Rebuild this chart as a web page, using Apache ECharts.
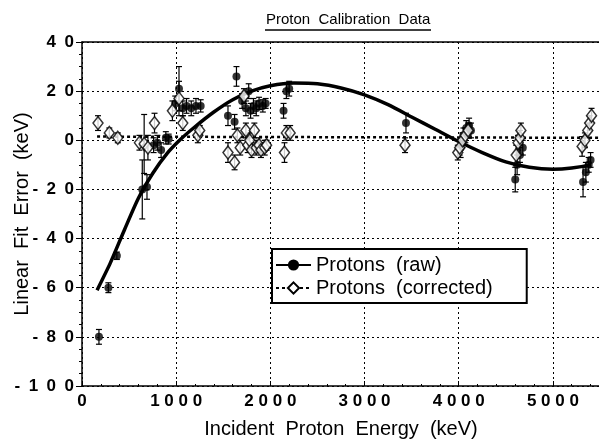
<!DOCTYPE html>
<html>
<head>
<meta charset="utf-8">
<script src="https://cdn.jsdelivr.net/npm/echarts@6/dist/echarts.min.js"></script>
<style>
  html, body { margin: 0; padding: 0; background: #fff; }
  #chart { width: 599px; height: 440px; }
</style>
</head>
<body>
<div id="chart"></div>
<script>
// Raw proton calibration residuals: energy (keV), linear-fit error (keV), 1-sigma error (keV)
const rawEnergy = [180, 280, 370, 640, 690, 760, 800, 840, 890, 920, 990, 1030, 1070, 1110, 1160, 1210, 1260,
  1550, 1620, 1640, 1700, 1740, 1770, 1790, 1820, 1850, 1880, 1920, 1950, 2140, 2170, 2200,
  3440, 4020, 4050, 4080, 4110, 4130, 4600, 4620, 4650, 4680, 5320, 5350, 5380, 5400];
const rawError = [-80, -60, -47, -20, -19, -2, -1, -4, 1, 0.5, 15, 21, 13, 14, 13, 14, 14,
  10, 7.5, 26, 16, 13, 20, 12, 14, 13, 15, 14, 15, 12, 20, 21,
  7, -3, 2, 5, 6, 4, -16, -10, -6, -3, -17, -13, -10, -8];
const rawSigma = [3, 2, 1.5, 12, 5, 3, 3, 3, 2.5, 2, 3, 9, 3, 3, 3, 3, 2.5,
  4, 3, 4, 3, 3, 3, 3, 3, 3, 2.5, 2.5, 2, 3, 3, 3,
  4, 4, 3, 3, 3, 3, 5, 4, 3, 3, 6, 4, 3, 3];

// Residuals after the non-linearity correction
const corrEnergy = [170, 290, 380, 610, 660, 700, 770, 960, 1030, 1070, 1230, 1250,
  1550, 1620, 1650, 1680, 1720, 1740, 1760, 1780, 1800, 1830, 1850, 1880, 1900, 1940, 1960,
  2150, 2170, 2210, 3430, 3990, 4010, 4040, 4070, 4100,
  4610, 4630, 4650, 4660, 5310, 5340, 5370, 5390, 5410];
const corrError = [7, 3, 1, -1, -1.5, -3, 7, 12, 17, 7, 2, 4,
  -5, -9, 2, -3, 18, 4, -2, 0, -4, 4, -3, -2, -4, -3, -2,
  -5, 3, 3, -2, -5, -3, 0, 2, 4,
  -6, -1, 1, 4, -2.5, 0, 4, 7, 10];
const corrSigma = [3, 2, 2, 3, 12, 5, 4, 4, 7, 3, 3, 2,
  4, 3, 3, 3, 3, 3, 3, 3, 3, 3, 3, 3, 3, 3, 2,
  4, 3, 3, 3, 3, 3, 3, 3, 3,
  4, 3, 3, 3, 4, 3, 3, 3, 3];

// Polynomial fit through the raw residuals, sampled along energy
const fitEnergy = [160, 300, 450, 600, 750, 900, 1050, 1200, 1400, 1600, 1800, 2000, 2250, 2500,
  2750, 3000, 3250, 3500, 3750, 4000, 4250, 4500, 4750, 5000, 5200, 5400];
const fitValue = [-61, -50, -36.5, -23.5, -13.5, -5.5, 0.5, 5.5, 11.5, 16.5, 20, 22.2, 23.3, 23,
  21.3, 18.5, 14.5, 9.5, 4.5, -0.5, -5, -8.8, -11, -11.8, -11.3, -10];

// Flat level of the corrected residuals
const corrFitEnergy = [160, 5500];
const corrFitValue = [1.5, 1];

const FONT = '"Liberation Sans", Arial, Helvetica, sans-serif';
const spacedX = v => String(v).split('').join(' ');
const spacedY = v => String(v).split('').join('\u2002');

const zip3 = (a, b, c) => a.map((x, i) => [x, b[i], c[i]]);
const zip2 = (a, b) => a.map((x, i) => [x, b[i]]);

function errorBar(params, api) {
  const x = api.value(0), y = api.value(1), s = api.value(2);
  const top = api.coord([x, y + s]);
  const bot = api.coord([x, y - s]);
  const cw = 3;
  const st = { stroke: '#000', lineWidth: 1.2 };
  return {
    type: 'group',
    children: [
      { type: 'line', shape: { x1: top[0], y1: top[1], x2: bot[0], y2: bot[1] }, style: st },
      { type: 'line', shape: { x1: top[0] - cw, y1: top[1], x2: top[0] + cw, y2: top[1] }, style: st },
      { type: 'line', shape: { x1: bot[0] - cw, y1: bot[1], x2: bot[0] + cw, y2: bot[1] }, style: st }
    ]
  };
}

const RAW_NAME = 'Protons  (raw)';
const CORR_NAME = 'Protons  (corrected)';

const chart = echarts.init(document.getElementById('chart'), null, { renderer: 'canvas' });
chart.setOption({
  animation: false,
  backgroundColor: '#fff',
  textStyle: { fontFamily: FONT, color: '#000' },
  grid: { left: 82, right: -1, top: 42, bottom: 54, containLabel: false, outerBoundsMode: 'none' },
  graphic: [
    {
      type: 'text', left: 266, top: 12,
      style: { text: 'Proton  Calibration  Data', font: '15px ' + FONT, fill: '#000' }
    },
    {
      type: 'line', shape: { x1: 265, y1: 30, x2: 431, y2: 30 },
      style: { stroke: '#000', lineWidth: 1.3 }
    }
  ],
  legend: {
    left: 272, top: 249,
    orient: 'vertical',
    data: [RAW_NAME, CORR_NAME],
    itemWidth: 35, itemHeight: 14, itemGap: 3,
    padding: [6, 34, 5, 3],
    backgroundColor: '#fff',
    borderColor: '#000', borderWidth: 2,
    textStyle: { fontSize: 20, fontFamily: FONT, color: '#000' },
    selectedMode: false
  },
  xAxis: [
    {
      type: 'value', min: 0, max: 5500, interval: 1000,
      name: 'Incident  Proton  Energy  (keV)', nameLocation: 'middle', nameGap: 33, nameMoveOverlap: false,
      nameTextStyle: { fontSize: 20, fontFamily: FONT, color: '#000' },
      axisLine: { onZero: false, lineStyle: { color: '#000', width: 1.5 } },
      axisTick: { inside: true, length: 5, lineStyle: { color: '#000' } },
      minorTick: { show: true, splitNumber: 5, length: 2, lineStyle: { color: '#000' } },
      axisLabel: { fontSize: 17, fontWeight: 'bold', color: '#000', margin: 7, showMaxLabel: false, formatter: spacedX },
      splitLine: { show: true, lineStyle: { color: '#000', type: [2, 3], width: 1 } }
    },
    {
      type: 'value', min: 0, max: 5500, position: 'top',
      axisLine: { show: true, onZero: false, lineStyle: { color: '#000', width: 1.5 } },
      axisTick: { show: false }, axisLabel: { show: false }, splitLine: { show: false }
    }
  ],
  yAxis: {
    type: 'value', min: -100, max: 40, interval: 20,
    name: 'Linear  Fit  Error  (keV)', nameLocation: 'middle', nameGap: 50, nameMoveOverlap: false,
    nameTextStyle: { fontSize: 20, fontFamily: FONT, color: '#000' },
    axisLine: { show: true, onZero: false, lineStyle: { color: '#000', width: 1.5 } },
    axisTick: { show: true, inside: false, length: 6, lineStyle: { color: '#000' } },
    minorTick: { show: true, splitNumber: 4, length: 3, lineStyle: { color: '#000' } },
    axisLabel: { fontSize: 17, fontWeight: 'bold', color: '#000', margin: 8, formatter: spacedY },
    splitLine: { show: true, lineStyle: { color: '#000', type: [2, 3], width: 1 } }
  },
  series: [
    {
      type: 'custom', name: 'raw-err', renderItem: errorBar,
      data: zip3(rawEnergy, rawError, rawSigma), encode: { x: 0, y: 1 }, z: 2, silent: true
    },
    {
      type: 'custom', name: 'corr-err', renderItem: errorBar,
      data: zip3(corrEnergy, corrError, corrSigma), encode: { x: 0, y: 1 }, z: 2, silent: true
    },
    {
      type: 'line', name: CORR_NAME,
      data: zip2(corrFitEnergy, corrFitValue),
      showSymbol: false, symbol: 'diamond', symbolSize: [9, 11],
      itemStyle: { color: '#fff', borderColor: '#000', borderWidth: 1.5 },
      lineStyle: { color: '#000', width: 2.5, type: [3, 3] }, z: 3
    },
    {
      type: 'line', name: RAW_NAME,
      data: zip2(fitEnergy, fitValue), smooth: 0.25,
      showSymbol: false, symbol: 'circle', symbolSize: 8,
      itemStyle: { color: '#000' },
      lineStyle: { color: '#000', width: 3.5 }, z: 3
    },
    {
      type: 'scatter', name: 'raw-pts',
      data: zip2(rawEnergy, rawError), symbol: 'circle', symbolSize: 8,
      itemStyle: { color: '#000' }, z: 4
    },
    {
      type: 'scatter', name: 'corr-pts',
      data: zip2(corrEnergy, corrError), symbol: 'diamond', symbolSize: [10, 13],
      itemStyle: { color: '#fff', borderColor: '#000', borderWidth: 1.5 }, z: 5
    }
  ]
});
</script>
</body>
</html>
